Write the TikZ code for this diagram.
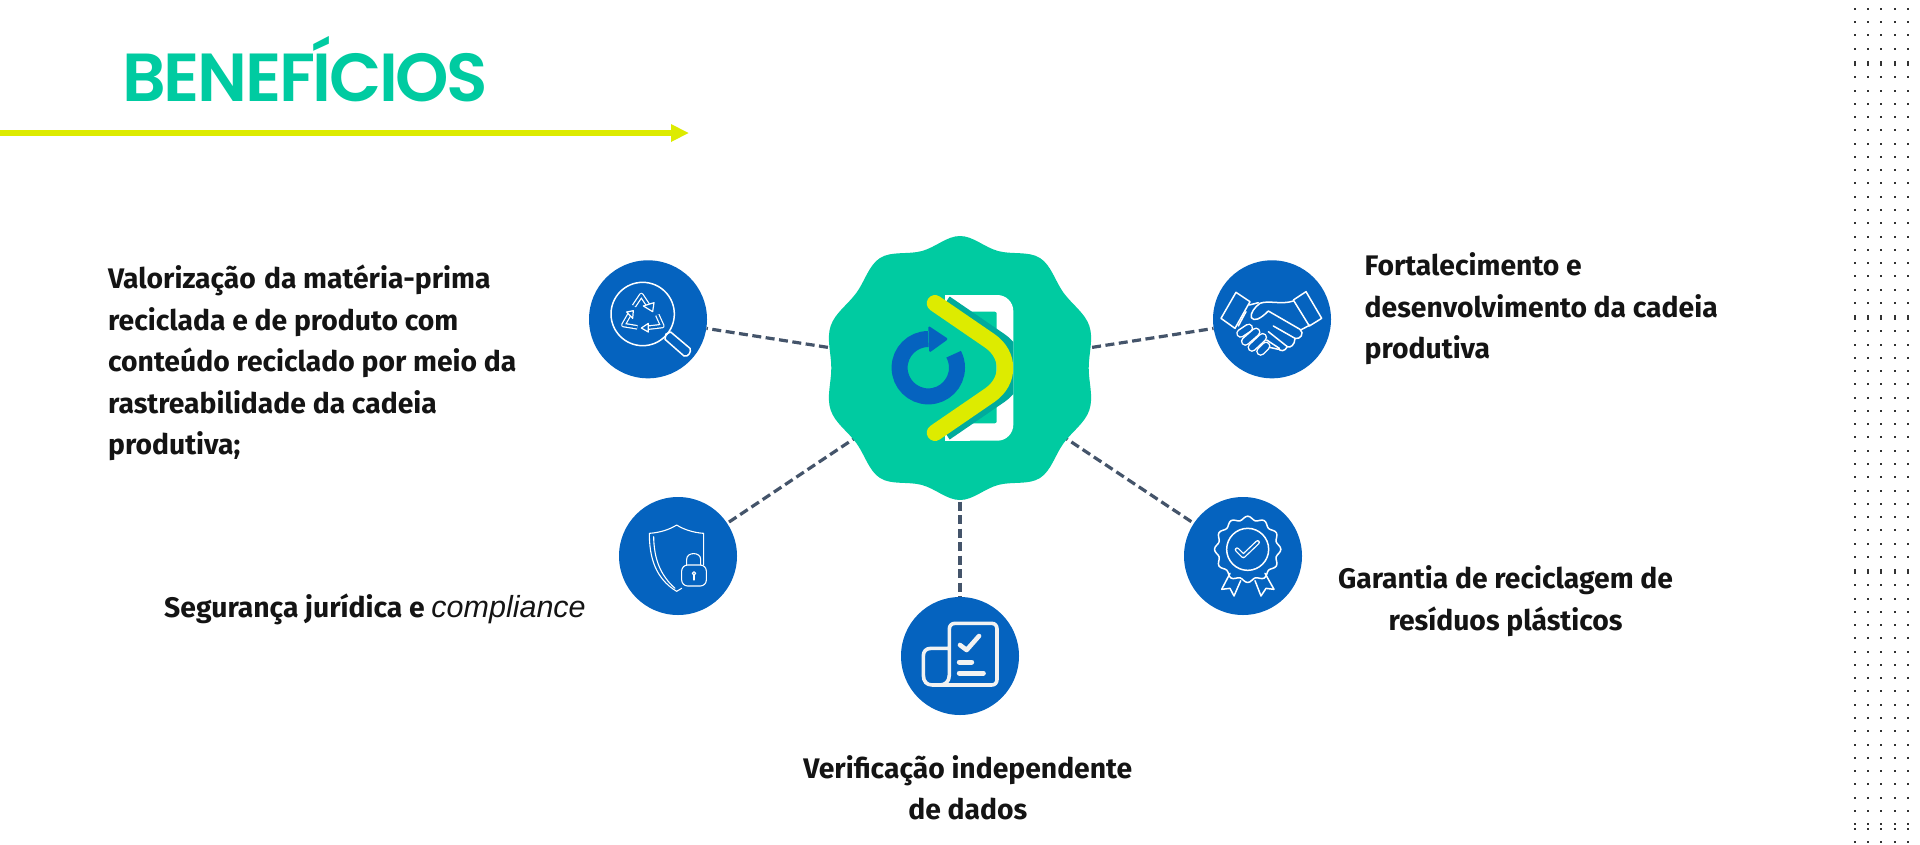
\documentclass[tikz,border=0pt]{standalone}
\usepackage{fontspec}
\usetikzlibrary{calc}
\setmainfont{Fira Sans}
\newfontfamily\titlefont[LetterSpace=-3.4]{Poppins SemiBold}
\newfontfamily\arialf{Liberation Sans}
\definecolor{grn}{HTML}{00CBA1}
\definecolor{blu}{HTML}{0563BF}
\definecolor{yel}{HTML}{DDEB00}
\definecolor{teal2}{HTML}{00AB9C}
\definecolor{dashc}{HTML}{44546A}
\definecolor{dotc}{HTML}{333333}
\tikzset{
 hubc/.style={circle,fill=blu,minimum size=118pt,inner sep=0pt},
 conn/.style={draw=dashc,line width=3.2pt,dash pattern=on 9pt off 4.5pt},
 lab/.style={font=\fontsize{28.3}{41.5}\selectfont\bfseries,text=black!92,inner sep=0pt},
 ic/.style={draw=white,line width=1.5pt,line join=round,line cap=round},
 zoomed/.style={x=0.33333pt,y=-0.33333pt},
}
\begin{document}
\begin{tikzpicture}[x=1pt,y=-1pt]
\useasboundingbox (0,0) rectangle (1920,844);
\fill[white] (0,0) rectangle (1920,844);
% dots
\foreach \xx in {1855,1868.3,1881.4,1894.7,1908}{
 \foreach \yy in {9,22.3,35.4,48.7,824,829,842.3}{\fill[dotc] (\xx-1,\yy-1) rectangle (\xx+1,\yy+1);}
 \foreach \tt in {63,317,571}{
  \fill[dotc] (\xx-1,\tt-2.5) rectangle (\xx+1,\tt+2.5);
  \foreach \k in {0,...,17}{\pgfmathsetmacro\yy{\tt+14.3+13.27*\k}\fill[dotc] (\xx-1,\yy-1) rectangle (\xx+1,\yy+1);}
 }
}
% title
\node[anchor=base west,inner sep=0pt,text=grn,font=\titlefont\fontsize{68}{70}\selectfont] (title) at (122,101) {BENEFÍCIOS};
% header arrow
\coordinate (ruleL) at (0,133);
\coordinate (ruleR) at (673,133);
\draw[yel,line width=5.5pt] (ruleL) -- (ruleR);
\fill[yel] (671,124) -- (688.5,133) -- (671,142) -- cycle;
% nodes
\node[circle,minimum size=240pt,inner sep=0pt] (hub) at (960,368) {};
\node[hubc] (c1) at (648,319.3) {};
\node[hubc] (c2) at (1272,319.3) {};
\node[hubc] (c3) at (678,556) {};
\node[hubc] (c4) at (1243,556) {};
\node[hubc] (c5) at (960,656) {};
\draw[conn] (hub) -- (c1);
\draw[conn] (hub) -- (c2);
\draw[conn] (hub) -- (c3);
\draw[conn] (hub) -- (c4);
\draw[conn] (hub) -- (c5);
% badge
\fill[grn] plot[smooth cycle,tension=0.62] coordinates {
 ($(hub)+(90:132)$) ($(hub)+(72:123)$) ($(hub)+(54:136)$) ($(hub)+(36:128)$) ($(hub)+(18:136)$)
 ($(hub)+(0:128.7)$) ($(hub)+(-18:136)$) ($(hub)+(-36:128)$) ($(hub)+(-54:136)$) ($(hub)+(-72:123)$)
 ($(hub)+(-90:132)$) ($(hub)+(-108:123)$) ($(hub)+(-126:136)$) ($(hub)+(-144:128)$) ($(hub)+(-162:136)$)
 ($(hub)+(180:128.7)$) ($(hub)+(162:136)$) ($(hub)+(144:128)$) ($(hub)+(126:136)$) ($(hub)+(108:123)$)};
% logo
\fill[white,rounded corners=16pt] (945,295) -- (1013.3,295) -- (1013.3,440.7) -- (945,440.7) -- cycle;
\fill[white] (945,295) rectangle (970,440.7);
\fill[grn,rounded corners=2pt] (925,311.7) rectangle (996.7,423.3);
\begin{scope}
\clip (900,295) rectangle (1013.3,440.7);
\draw[teal2,line width=16.5pt] (945,303.3) -- (1000,341) .. controls (1020,355) and (1020,381) .. (1000,395) -- (945,432.7);
\end{scope}
\draw[yel,line width=16.5pt,line cap=round,line join=round] (935,303.3) -- (990,341) .. controls (1010,355) and (1010,381) .. (990,395) -- (935,432.7);
\draw[blu,line width=16pt] (928.3,339) arc[start angle=-90,end angle=-388,radius=28.7];
\fill[blu,rounded corners=1.5pt] (928.3,325.7) -- (948.3,339) -- (929.3,352.7) -- cycle;
% icon 1
\begin{scope}[shift={(580,250)},zoomed]
 \draw[ic] (188,192) circle (95);
 \draw[ic] (258,252) -- (272,246) -- (330,295) .. controls (335,305) and (325,322) .. (312,318) -- (255,268) -- cycle;
 \foreach \p in {
  {(162,168) -- (184,135) -- (204,165)},
  {(150,190) -- (130,225) -- (172,232)},
  {(232,195) -- (247,228) -- (196,234)}}{
  \draw[white,line width=4.6pt,line join=round] \p;
  \draw[blu,line width=2.2pt,line join=round] \p;
 }
 \draw[ic,fill=blu,line width=1.2pt] (190,168) -- (222,158) -- (218,185) -- cycle;
 \draw[ic,fill=blu,line width=1.2pt] (140,186) -- (160,182) -- (158,205) -- cycle;
 \draw[ic,fill=blu,line width=1.2pt] (184,234) -- (205,220) -- (205,246) -- cycle;
\end{scope}
% icon 2
\begin{scope}[shift={(1210,250)},zoomed]
 \draw[ic] (78,127) -- (120,155) -- (75,235) -- (33,205) -- cycle;
 \draw[ic] (288,125) -- (335,205) -- (298,228) -- (250,150) -- cycle;
 \draw[ic] (250,153) .. controls (215,165) and (175,150) .. (150,160) .. controls (135,170) and (120,190) .. (124,203) .. controls (132,215) and (150,208) .. (175,183) -- (270,238) .. controls (285,250) and (270,270) .. (255,265) .. controls (255,285) and (240,295) .. (232,290) .. controls (225,305) and (210,305) .. (205,295);
 \draw[ic] (300,225) -- (272,240);
 \draw[ic] (118,165) -- (145,158);
 \draw[ic] (190,228) -- (255,265);
 \draw[ic] (175,245) -- (232,290);
 \draw[ic] (170,270) -- (208,295);
 \draw[ic] (205,298) -- (170,290);
 \draw[ic] (108,185) -- (85,228);
 \foreach \a/\b/\c/\d in {116/234/92/250, 138/246/106/274, 158/262/126/292, 168/288/152/304}{
  \draw[white,line width=9pt,line cap=round] (\a,\b) -- (\c,\d);
  \draw[blu,line width=6pt,line cap=round] (\a,\b) -- (\c,\d);
 }
\end{scope}
% icon 3
\begin{scope}[shift={(610,490)},zoomed]
 \draw[ic,line width=1.1pt] (215,295) -- (200,304) .. controls (135,265) and (118,200) .. (118,130) .. controls (150,128) and (180,118) .. (200,105) .. controls (220,118) and (250,128) .. (281,130) -- (281,225);
 \draw[ic,line width=1.1pt] (131,140) .. controls (132,205) and (150,255) .. (195,295);
 \draw[ic,line width=1.1pt,rounded corners=6pt] (215,225) rectangle (289,288);
 \draw[ic,line width=1.1pt] (230,225) -- (230,208) .. controls (230,185) and (272,185) .. (272,208) -- (272,225);
 \draw[ic,line width=1.1pt] (252,250) circle (5);
 \draw[ic,line width=1.1pt] (252,256) -- (252,270);
\end{scope}
% icon 4
\begin{scope}[shift={(1180,490)},zoomed]
 \draw[ic] plot[smooth cycle,samples=96,domain=0:356.25,variable=\t] ({203+(94+5.5*cos(12*(\t-90)))*cos(\t)},{178-(94+5.5*cos(12*(\t-90)))*sin(\t)});
 \draw[ic] (203,178) circle (63);
 \draw[white,line width=4.6pt,line cap=round,line join=round] (171,179) -- (190,198) -- (233,157);
 \draw[blu,line width=2pt,line cap=round,line join=round] (171,179) -- (190,198) -- (233,157);
 \draw[ic] (150,250) -- (125,298) -- (150,295) -- (162,318) -- (182,272);
 \draw[ic] (255,250) -- (282,298) -- (258,295) -- (243,318) -- (225,272);
\end{scope}
% icon 5
\begin{scope}[shift={(895,590)},zoomed]
 \draw[draw=white!95!black,line width=3.6pt,line join=round,line cap=round] (157,175) -- (108,175) .. controls (92,175) and (85,185) .. (85,198) -- (85,255) .. controls (85,275) and (95,285) .. (112,285) -- (290,285) .. controls (300,285) and (306,278) .. (306,268) -- (306,117) .. controls (306,107) and (300,100) .. (290,100) -- (180,100) .. controls (170,100) and (163,107) .. (163,117) -- (163,255) .. controls (163,275) and (150,285) .. (135,285);
 \draw[white!95!black,line width=4.6pt,line cap=round,line join=round] (195,165) -- (215,180) -- (252,138);
 \draw[white!95!black,line width=5pt,line cap=round] (193,216) -- (230,216);
 \draw[white!95!black,line width=5pt,line cap=round] (193,249) -- (265,249);
\end{scope}
% labels
\node[lab,anchor=west,align=left] (t1) at (108,363) {Valorização\hspace{0.05em} da matéria-prima\\reciclada e de produto com\\conteúdo reciclado por meio da\\rastreabilidade da cadeia\\produtiva;};
\node[lab,anchor=west,align=left] (t2) at (1364.5,309) {Fortalecimento e\\desenvolvimento da cadeia\\produtiva};
\node[lab,anchor=base west] (t3) at (164,617) {Segurança jurídica e {\arialf\itshape\mdseries\fontsize{30.5}{41.5}\selectfont compliance}};
\node[lab,align=center] (t4) at (1505.5,601) {Garantia de reciclagem de\\resíduos plásticos};
\node[lab,align=center] (t5) at (967.8,788) {Verificação independente\\de dados};
\end{tikzpicture}
\end{document}
